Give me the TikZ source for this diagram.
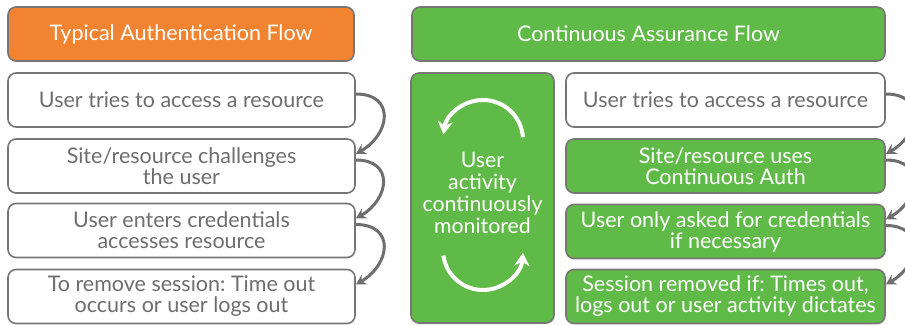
\documentclass[tikz,border=0pt]{standalone}
\usepackage{fontspec}
\setmainfont{Lato}
\usetikzlibrary{arrows.meta}
\definecolor{authorange}{HTML}{F28330}
\definecolor{assuregreen}{HTML}{60BA47}
\definecolor{edgegrey}{HTML}{767676}
\definecolor{textgrey}{HTML}{6E6E6E}
\frenchspacing
\begin{document}
\begin{tikzpicture}[x=1pt,y=1pt,
    box/.style={draw=edgegrey,line width=1.6pt,rounded corners=8pt,
      minimum height=54pt,inner sep=0pt,align=center,
      font=\fontsize{21.5}{21}\selectfont},
    plain/.style={box,fill=white,text=textgrey},
    green/.style={box,fill=assuregreen,text=white},
    head/.style={box,text=white},
    flow/.style={draw=textgrey,line width=3pt,-{Stealth[length=10pt,width=11pt]}},
    cycle/.style={draw=white,line width=4pt,-{Stealth[length=13pt,width=15pt]}}]
  \useasboundingbox (0,0) rectangle (905,324);
  \clip (0,0) rectangle (905,324);
  % typical flow
  \node[head,fill=authorange,minimum width=346pt] (th) at (181,290) {Typical Authentication Flow};
  \node[plain,minimum width=347pt] (t1) at (181.5,224) {User tries to access a resource};
  \node[plain,minimum width=347pt] (t2) at (181.5,158) {Site/resource challenges\\the user};
  \node[plain,minimum width=347pt] (t3) at (181.5,93.5) {User enters credentials\\accesses resource};
  \node[plain,minimum width=347pt] (t4) at (181.5,27.5) {To remove session: Time out\\occurs or user logs out};
  % continuous flow
  \node[head,fill=assuregreen,minimum width=473pt] (ch) at (648.5,290) {Continuous Assurance Flow};
  \node[green,minimum width=143pt,minimum height=250pt] (mon) at (482.5,126) {};
  \node[text=white,align=center,font=\fontsize{21.3}{21.7}\selectfont] (montext) at (482.5,131)
    {User\\activity\\continuously\\monitored};
  \node[plain,minimum width=319pt] (c1) at (725.5,224) {User tries to access a resource};
  \node[green,minimum width=319pt] (c2) at (725.5,158) {Site/resource uses\\Continuous Auth};
  \node[green,minimum width=319pt] (c3) at (725.5,92.5) {User only asked for credentials\\if necessary};
  \node[green,minimum width=319pt] (c4) at (725.5,27.5) {Session removed if: Times out,\\logs out or user activity dictates};
  % loop arrows inside the monitor box
  \draw[cycle] (483,184) ++(4:40) arc[start angle=4,end angle=172,radius=40];
  \draw[cycle] (483,74) ++(188:40) arc[start angle=188,end angle=356,radius=40];
  % step arrows
  \foreach \a/\b in {t1/t2,t2/t3,t3/t4,c1/c2,c2/c3,c3/c4}
    \draw[flow] ([yshift=6pt]\a.east) to[out=0,in=30,looseness=1.7] ([yshift=12pt]\b.east);
\end{tikzpicture}
\end{document}
